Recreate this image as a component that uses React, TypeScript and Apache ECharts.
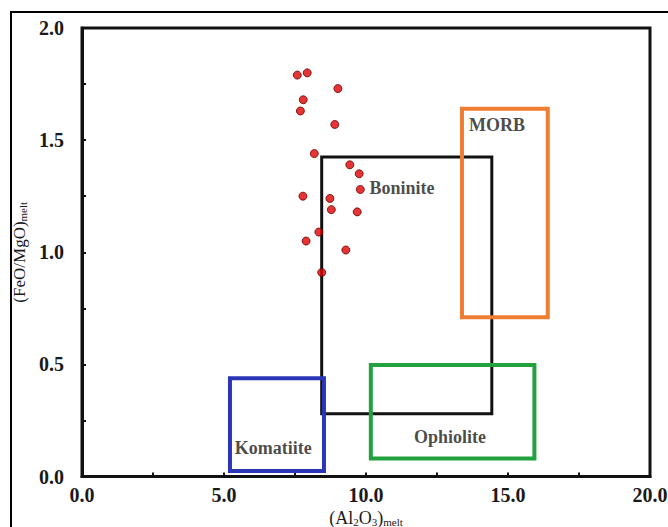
import React, { useEffect, useRef } from "react";
import * as echarts from "echarts";

// Sample points: (Al2O3)melt vs (FeO/MgO)melt
const al2o3 = [7.58, 7.93, 9.01, 7.79, 7.69, 8.9, 8.18, 9.43, 9.76, 9.8, 7.78, 8.73, 8.78, 9.69, 8.34, 7.89, 9.29, 8.44];
const feoMgo = [1.79, 1.8, 1.73, 1.68, 1.63, 1.57, 1.44, 1.39, 1.35, 1.28, 1.25, 1.24, 1.19, 1.18, 1.09, 1.05, 1.01, 0.91];

// Tectonic fields (rectangles)
const fieldNames = ["Boninite", "MORB", "Ophiolite", "Komatiite"];
const fieldXMin = [8.44, 13.38, 10.17, 5.21];
const fieldXMax = [14.43, 16.4, 15.93, 8.52];
const fieldYMin = [0.28, 0.71, 0.08, 0.025];
const fieldYMax = [1.425, 1.64, 0.497, 0.438];
const fieldColors = ["#111111", "#ed7d31", "#22a23f", "#2b35b8"];
const fieldWidths = [3, 4, 4, 4];

// Field label anchors
const labelX = [11.27, 14.61, 12.96, 6.73];
const labelY = [1.287, 1.567, 0.176, 0.127];

// Axis ticks
const xTickLabels = ["0.0", "5.0", "10.0", "15.0", "20.0"];
const yTickLabels = ["0.0", "0.5", "1.0", "1.5", "2.0"];

const FONT = "'Liberation Serif', 'Times New Roman', serif";

export default function App() {
  const ref = useRef<HTMLDivElement>(null);
  useEffect(() => {
    if (!ref.current) return;
    const chart = echarts.init(ref.current, undefined, { renderer: "svg" });

    const boxSeries = fieldNames.map((name, i) => ({
      type: "line",
      name,
      data: [
        [fieldXMin[i], fieldYMin[i]],
        [fieldXMax[i], fieldYMin[i]],
        [fieldXMax[i], fieldYMax[i]],
        [fieldXMin[i], fieldYMax[i]],
        [fieldXMin[i], fieldYMin[i]],
      ],
      showSymbol: false,
      symbol: "none",
      silent: true,
      lineStyle: { color: fieldColors[i], width: fieldWidths[i], join: "miter", cap: "square" },
      z: 2 + i,
    }));

    const richX = {
      a: { fontFamily: FONT, fontSize: 18, color: "#1a1a1a", lineHeight: 20, verticalAlign: "bottom" },
      s: { fontFamily: FONT, fontSize: 11, color: "#1a1a1a", lineHeight: 20, verticalAlign: "bottom" },
    };
    const richY = {
      a: { fontFamily: FONT, fontSize: 17, color: "#1a1a1a", lineHeight: 20, verticalAlign: "bottom" },
      s: { fontFamily: FONT, fontSize: 11, color: "#1a1a1a", lineHeight: 20, verticalAlign: "bottom" },
    };

    const option: any = {
      animation: false,
      backgroundColor: "#ffffff",
      grid: {
        left: 82,
        right: 18,
        top: 28,
        bottom: 50.5,
        outerBoundsMode: "none",
        containLabel: false,
        show: true,
        borderColor: "#111",
        borderWidth: 3,
      },
      graphic: [
        {
          type: "rect",
          shape: { x: 11, y: 12, width: 720, height: 600 },
          style: { fill: "none", stroke: "#000", lineWidth: 2 },
          silent: true,
          z: 0,
        },
      ],
      xAxis: {
        type: "value",
        min: 0,
        max: 20,
        interval: 2.5,
        splitLine: { show: false },
        axisLine: { onZero: false, lineStyle: { color: "#111", width: 3 } },
        axisTick: { inside: true, length: 4, lineStyle: { color: "#111", width: 2 } },
        axisLabel: {
          formatter: (v: number) => {
            const idx = Math.round(v / 5);
            return Math.abs(v - idx * 5) < 1e-6 ? xTickLabels[idx] : "";
          },
          fontFamily: FONT,
          fontWeight: "bold",
          fontSize: 20,
          color: "#1a1a1a",
          margin: 8,
          showMaxLabel: true,
          hideOverlap: false,
        },
        name: "{a|(Al}{s|2}{a|O}{s|3}{a|)}{s|melt}",
        nameLocation: "middle",
        nameGap: 27,
        nameTextStyle: { rich: richX },
      },
      yAxis: {
        type: "value",
        min: 0,
        max: 2,
        interval: 0.25,
        splitLine: { show: false },
        axisLine: { onZero: false, lineStyle: { color: "#111", width: 3 } },
        axisTick: { inside: true, length: 4, lineStyle: { color: "#111", width: 2 } },
        axisLabel: {
          formatter: (v: number) => {
            const idx = Math.round(v / 0.5);
            return Math.abs(v - idx * 0.5) < 1e-6 ? yTickLabels[idx] : "";
          },
          fontFamily: FONT,
          fontWeight: "bold",
          fontSize: 20,
          color: "#1a1a1a",
          margin: 18,
        },
        name: "{a|(FeO/MgO)}{s|melt}",
        nameLocation: "middle",
        nameRotate: 90,
        nameGap: 45,
        nameTextStyle: { rich: richY },
      },
      series: [
        ...boxSeries,
        {
          type: "scatter",
          name: "labels",
          data: fieldNames.map((n, i) => ({ name: n, value: [labelX[i], labelY[i]] })),
          symbolSize: 0,
          silent: true,
          label: {
            show: true,
            position: "inside",
            formatter: (p: any) => p.name,
            fontFamily: FONT,
            fontWeight: "bold",
            fontSize: 18,
            color: "#1a1a1a",
          },
          z: 8,
        },
        {
          type: "scatter",
          name: "samples",
          data: al2o3.map((x, i) => [x, feoMgo[i]]),
          symbol: "circle",
          symbolSize: 8,
          itemStyle: { color: "#e00000", borderColor: "#6a0000", borderWidth: 1 },
          z: 10,
        },
      ],
    };
    chart.setOption(option);
    return () => chart.dispose();
  }, []);
  return (
    <div
      ref={ref}
      style={{ position: "fixed", left: 0, top: 0, width: 668, height: 527, background: "#fff" }}
    />
  );
}
